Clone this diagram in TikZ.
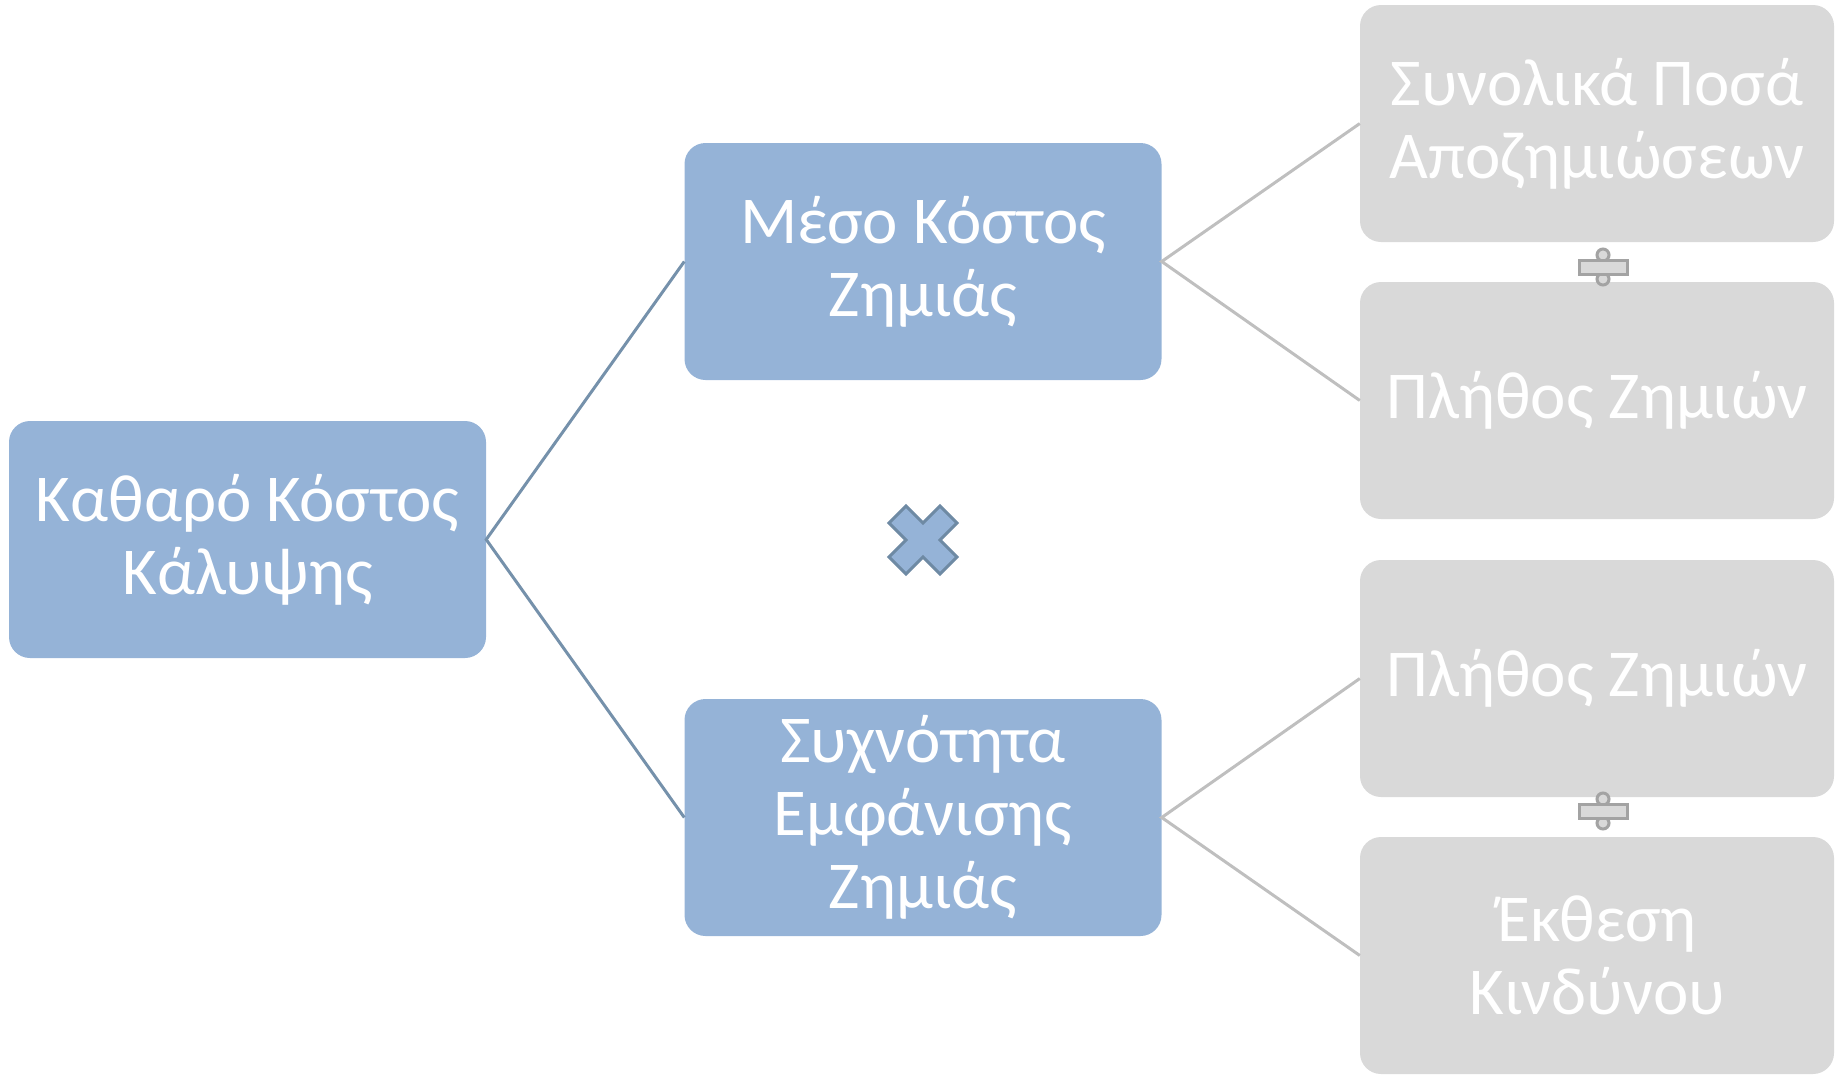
\documentclass[tikz,border=0pt]{standalone}
\usepackage{fontspec}
\setmainfont{Carlito}
\definecolor{boxblue}{HTML}{95B3D7}
\definecolor{lineblue}{HTML}{7591AB}
\definecolor{signblue}{HTML}{6E8AA4}
\definecolor{boxgray}{HTML}{D9D9D9}
\definecolor{linegray}{HTML}{BFBFBF}
\definecolor{signgray}{HTML}{A3A3A3}
\begin{document}
\begin{tikzpicture}[x=1pt,y=-1pt,
  bluebox/.style={rectangle,rounded corners=21pt,fill=boxblue,text=white,align=center,
    minimum width=477pt,minimum height=237pt,inner sep=0pt,font=\fontsize{67}{73}\selectfont},
  graybox/.style={rectangle,rounded corners=21pt,fill=boxgray,text=white,align=center,
    minimum width=474pt,minimum height=237pt,inner sep=0pt,font=\fontsize{67}{73}\selectfont},
  blueline/.style={draw=lineblue,line width=3pt},
  grayline/.style={draw=linegray,line width=3pt},
  multsign/.style={fill=boxblue,draw=signblue,line width=3pt,line join=miter},
  divsign/.style={fill=boxgray,draw=signgray,line width=3pt}]
\useasboundingbox (0,0) rectangle (1835,1074);
\node[bluebox] (left) at (247.5,539.5) {Καθαρό Κόστος\\Κάλυψης};
\node[bluebox] (mtop) at (923,261.5) {Μέσο Κόστος\\Ζημιάς};
\node[bluebox] (mbot) at (923,817.5) {Συχνότητα\\Εμφάνισης\\Ζημιάς};
\node[graybox] (r1) at (1597,123.5) {Συνολικά Ποσά\\Αποζημιώσεων};
\node[graybox] (r2) at (1597,400.5) {Πλήθος Ζημιών};
\node[graybox] (r3) at (1597,678.5) {Πλήθος Ζημιών};
\node[graybox] (r4) at (1597,955.5) {Έκθεση\\Κινδύνου};
\draw[blueline] (mtop.west) -- (left.east) -- (mbot.west);
\draw[grayline] (r1.west) -- (mtop.east) -- (r2.west);
\draw[grayline] (r3.west) -- (mbot.east) -- (r4.west);
% multiplication sign
\begin{scope}[shift={(923,540)},rotate=45]
\draw[multsign] (-12,-12) -- (-12,-36) -- (12,-36) -- (12,-12) -- (36,-12) -- (36,12)
  -- (12,12) -- (12,36) -- (-12,36) -- (-12,12) -- (-36,12) -- (-36,-12) -- cycle;
\end{scope}
% division signs
\foreach \yc in {267,811}{
  \draw[divsign] (1603,\yc-12) circle (6);
  \draw[divsign] (1603,\yc+12) circle (6);
  \draw[divsign] (1579,\yc-7) rectangle (1627,\yc+7);
}
\end{tikzpicture}
\end{document}
